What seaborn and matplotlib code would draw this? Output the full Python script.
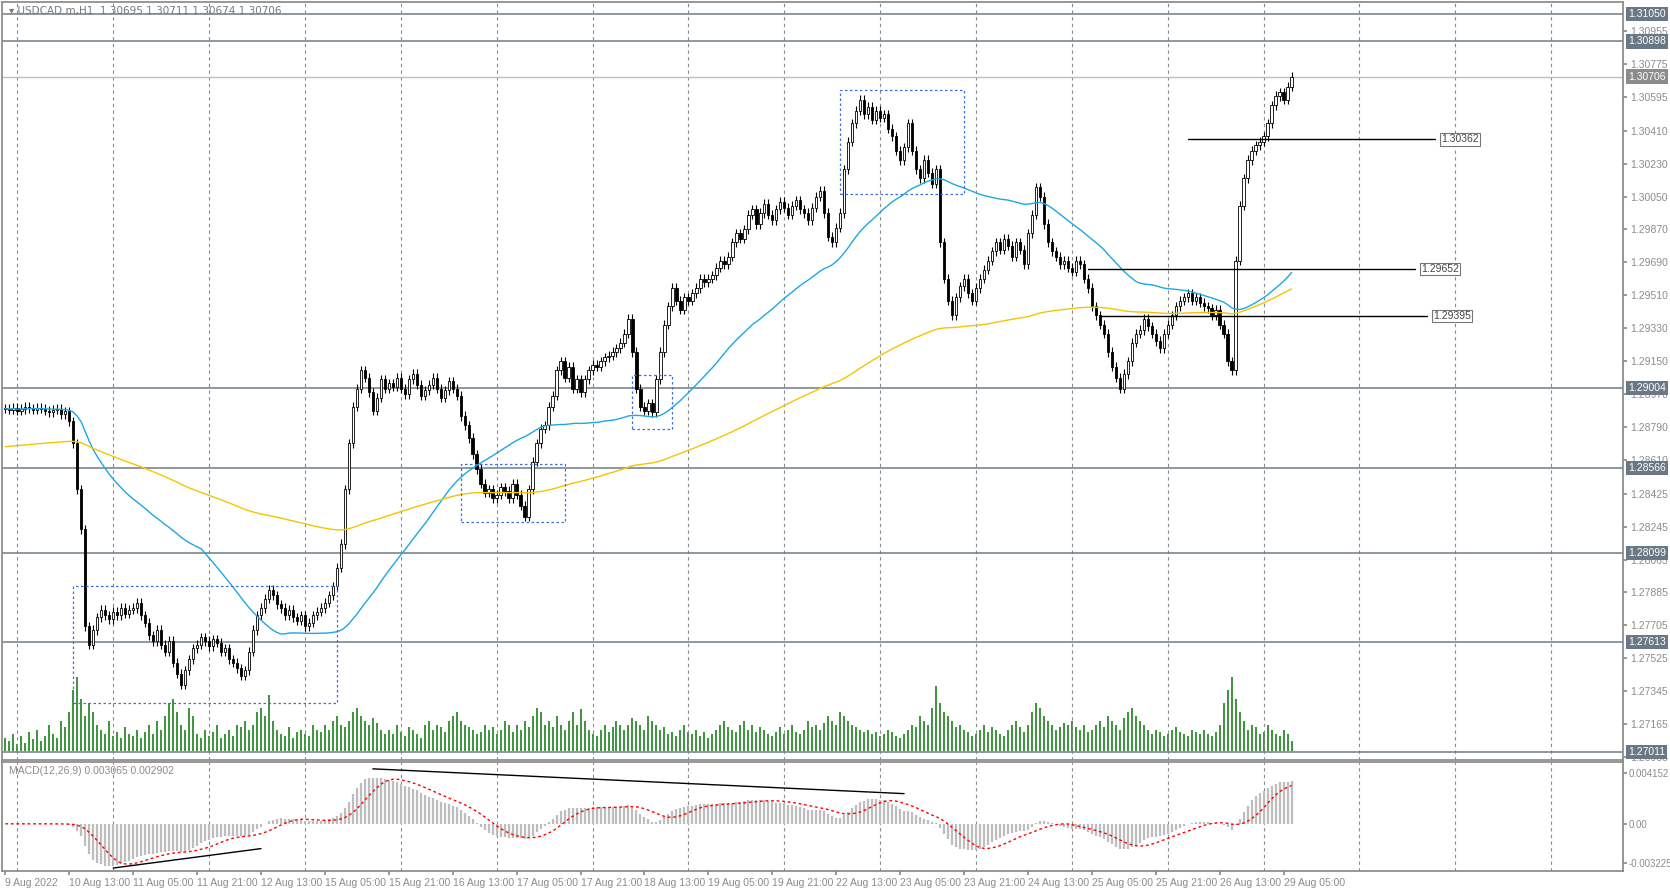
import numpy as np
import pandas as pd
import seaborn as sns
import matplotlib.pyplot as plt
from matplotlib.patches import Rectangle

# closes in 1e-5 units above 1.2 (8884 -> 1.28884), one value per H1 bar
closes_pts = [
    8890, 8885, 8895, 8880, 8888, 8900, 8892, 8885, 8895, 8890, 8880, 8870, 8885, 8890, 8860, 8875,
    8820, 8700, 8450, 8230, 7700, 7600, 7680, 7750, 7790, 7760, 7740, 7780, 7760, 7800, 7770, 7790,
    7800, 7830, 7760, 7720, 7650, 7620, 7680, 7600, 7560, 7620, 7500, 7440, 7380, 7460, 7520, 7580,
    7600, 7640, 7620, 7590, 7630, 7610, 7560, 7580, 7520, 7500, 7470, 7430, 7460, 7560, 7680, 7760,
    7800, 7850, 7900, 7870, 7820, 7800, 7760, 7790, 7750, 7730, 7760, 7700, 7720, 7760, 7780, 7800,
    7830, 7870, 7920, 8020, 8150, 8450, 8700, 8900, 9000, 9100, 9060, 8980, 8880, 8950, 9050, 9000,
    9030, 9010, 9060, 9000, 8970, 9050, 9080, 9020, 8960, 8990, 9020, 9060, 9000, 8950, 8990, 9040,
    9000, 8960, 8850, 8800, 8730, 8640, 8560, 8480, 8430, 8450, 8400, 8420, 8460, 8440, 8400, 8480,
    8420, 8360, 8300, 8450, 8600, 8700, 8780, 8800, 8900, 8960, 9100, 9150, 9060, 9120, 9000, 9050,
    8980, 9050, 9100, 9130, 9120, 9150, 9170, 9180, 9200, 9220, 9250, 9300, 9380, 9200, 9000, 8900,
    8880, 8920, 8870, 9050, 9200, 9350, 9450, 9550, 9480, 9430, 9500, 9480, 9520, 9550, 9600, 9580,
    9600, 9620, 9660, 9700, 9680, 9720, 9800, 9850, 9820, 9870, 9950, 9980, 9900, 9960, 10010, 9950,
    9920, 9980, 10020, 9990, 9950, 10000, 10030, 9980, 9960, 9920, 9990, 10050, 10080, 9960, 9830, 9800,
    9880, 9960, 10200, 10350, 10450, 10520, 10580, 10500, 10540, 10470, 10520, 10480, 10500, 10420, 10380, 10300,
    10250, 10320, 10450, 10300, 10200, 10150, 10250, 10180, 10120, 10200, 9800, 9600, 9480, 9400, 9500, 9560,
    9600, 9520, 9480, 9550, 9600, 9650, 9700, 9750, 9800, 9760, 9820, 9780, 9720, 9800, 9760, 9680,
    9850, 9950, 10100, 10050, 9900, 9800, 9750, 9720, 9680, 9700, 9660, 9640, 9700, 9680, 9600, 9550,
    9450, 9400, 9350, 9300, 9200, 9120, 9060, 9000, 9080, 9150, 9250, 9300, 9320, 9380, 9340, 9300,
    9260, 9220, 9300, 9350, 9400, 9450, 9480, 9500, 9520, 9480, 9500, 9470, 9450, 9440, 9400, 9430,
    9350, 9300, 9150, 9100, 9700, 10000, 10150, 10250, 10300, 10330, 10350, 10380, 10450, 10550, 10600, 10620,
    10580, 10650, 10706,
]

volumes = [
    15, 12, 20, 8, 18, 10, 22, 14, 25, 12, 18, 30, 20, 15, 35, 28,
    45, 70, 85, 60, 40, 55, 45, 30, 25, 20, 35, 18, 22, 15, 28, 20,
    18, 25, 15, 22, 30, 20, 35, 25, 40, 55, 60, 45, 30, 25, 50, 40,
    20, 15, 25, 18, 22, 30, 15, 20, 25, 18, 30, 28, 35, 25, 30, 45,
    50, 40, 65, 35, 25, 20, 18, 28, 15, 22, 25, 20, 18, 30, 25, 22,
    30, 25, 35, 40, 30, 28, 35, 45, 50, 40, 35, 30, 38, 32, 25, 20,
    25, 20, 30, 22, 18, 28, 25, 20, 15, 30, 35, 25, 30, 28, 22, 35,
    40, 45, 35, 30, 28, 25, 20, 22, 30, 25, 28, 20, 25, 35, 30, 22,
    30, 25, 35, 28, 40, 50, 45, 30, 35, 28, 40, 30, 25, 35, 45, 30,
    48, 35, 25, 20, 18, 25, 30, 22, 28, 35, 30, 25, 30, 38, 35, 30,
    25, 40, 35, 30, 25, 28, 20, 22, 18, 25, 30, 22, 20, 25, 18, 22,
    15, 20, 25, 30, 35, 28, 25, 22, 30, 35, 25, 30, 22, 28, 25, 20,
    18, 22, 28, 20, 25, 30, 22, 20, 25, 35, 28, 30, 25, 32, 40, 35,
    30, 45, 40, 35, 30, 28, 25, 22, 25, 20, 22, 18, 20, 25, 22, 18,
    15, 20, 25, 30, 28, 40, 35, 30, 50, 75, 55, 45, 40, 35, 28, 30,
    25, 22, 18, 20, 25, 30, 22, 28, 25, 20, 18, 25, 30, 35, 28, 22,
    30, 45, 55, 50, 40, 35, 30, 25, 28, 32, 30, 35, 28, 25, 30, 22,
    25, 30, 35, 28, 40, 35, 30, 25, 38, 45, 50, 40, 35, 30, 25, 20,
    25, 22, 18, 20, 25, 28, 22, 20, 18, 25, 22, 20, 25, 20, 18, 22,
    30, 55, 70, 85, 60, 45, 35, 25, 30, 28, 20, 22, 30, 25, 20, 18,
    25, 20, 12,
]

date_labels = ["9 Aug 2022", "10 Aug 13:00", "11 Aug 05:00", "11 Aug 21:00", "12 Aug 13:00",
               "15 Aug 05:00", "15 Aug 21:00", "16 Aug 13:00", "17 Aug 05:00", "17 Aug 21:00",
               "18 Aug 13:00", "19 Aug 05:00", "19 Aug 21:00", "22 Aug 13:00", "23 Aug 05:00",
               "23 Aug 21:00", "24 Aug 13:00", "25 Aug 05:00", "25 Aug 21:00", "26 Aug 13:00",
               "29 Aug 05:00"]
price_ticks = [1.30955, 1.30775, 1.30595, 1.30410, 1.30230, 1.30050, 1.29870, 1.29690, 1.29510,
               1.29330, 1.29150, 1.28970, 1.28790, 1.28610, 1.28425, 1.28245, 1.28065, 1.27885,
               1.27705, 1.27525, 1.27345, 1.27165, 1.26985]
level_lines = [1.31050, 1.30898, 1.29004, 1.28566, 1.28099, 1.27613, 1.27011]
current_price = 1.30706
slow_ma_seed = 1.2868  # slow average value at the left edge
# short horizontal rays: (price, start bar, end bar)
rays = [(1.30362, 296, 358), (1.29652, 271, 353), (1.29395, 274, 356)]
# dotted boxes: (bar0, bar1, price_low, price_high)
boxes = [(17, 83, 1.27283, 1.27918), (114, 140, 1.28273, 1.28587),
         (157, 167, 1.28779, 1.29076), (209, 240, 1.30065, 1.30630)]
macd_lines = [((92, 0.00410), (225, 0.00225)), ((27, -0.00330), (64, -0.00185))]

df = pd.DataFrame({"close": 1.2 + np.array(closes_pts) / 1e5, "volume": volumes})
df["bar"] = np.arange(len(df))
df["open"] = df["close"].shift(1).fillna(df["close"].iloc[0])
wick = 0.00025
df["high"] = df[["open", "close"]].max(axis=1) + wick
df["low"] = df[["open", "close"]].min(axis=1) - wick
df["ma_fast"] = df["close"].rolling(50, min_periods=1).mean()
slow = pd.concat([pd.Series([slow_ma_seed]), df["close"]], ignore_index=True)
df["ma_slow"] = slow.ewm(span=200, adjust=False).mean().iloc[1:].to_numpy()
ema12 = df["close"].ewm(span=12, adjust=False).mean()
ema26 = df["close"].ewm(span=26, adjust=False).mean()
df["macd"] = ema12 - ema26
df["signal"] = df["macd"].rolling(9, min_periods=1).mean()

sns.set_theme(style="white")
plt.rcParams["font.family"] = ["Liberation Sans", "DejaVu Sans"]
FS = 7.5
W, H = 1568, 838
fig = plt.figure(figsize=(16.7, 8.92), dpi=100)
ax = fig.add_axes([2 / W, 1 - 714 / H, 1522 / W, 712 / H])
axm = fig.add_axes([2 / W, 1 - 818 / H, 1522 / W, 102 / H], sharex=ax)
xmin, xmax = -0.8, 405
ymin, ymax = 1.26969, 1.31113
grid_c = "#8a8a8a"
txt_c = "#8c8c8c"

# volume underlay
axv = ax.twinx()
axv.vlines(df["bar"], 0, df["volume"], color="#2e8b2e", lw=1.3)
axv.set_ylim(-10, 860)
axv.axis("off")
ax.set_zorder(axv.get_zorder() + 1)
ax.patch.set_visible(False)

# candles
ax.vlines(df["bar"], df["low"], df["high"], color="black", lw=0.8, zorder=3)
body_bot = df[["open", "close"]].min(axis=1)
body_h = (df["close"] - df["open"]).abs().clip(lower=0.00004)
fc = np.where(df["close"] >= df["open"], "white", "black")
ax.bar(df["bar"], body_h, bottom=body_bot, width=0.6, color=fc, edgecolor="black", lw=0.6, zorder=4)
sns.lineplot(data=df, x="bar", y="ma_fast", color="#1ea7e1", lw=1, ax=ax, zorder=5)
sns.lineplot(data=df, x="bar", y="ma_slow", color="#f5c400", lw=1, ax=ax, zorder=5)

for lv in level_lines:
    ax.axhline(lv, color="#6f7c88", lw=1.1, zorder=2)
ax.axhline(current_price, color="#c0c0c0", lw=1, zorder=2)
for p, b0, b1 in rays:
    ax.plot([b0, b1], [p, p], color="black", lw=1, zorder=6)
    ax.text(b1 + 1.5, p, f"{p:.5f}", fontsize=FS, color="#444", va="center", ha="left",
            bbox=dict(boxstyle="square,pad=0.1", fc="white", ec="#777", lw=0.8), zorder=7)
for b0, b1, lo, hi in boxes:
    ax.add_patch(Rectangle((b0, lo), b1 - b0, hi - lo, fill=False, ec="#3a6fe0",
                           ls=(0, (2, 2)), lw=0.9, zorder=6))

day_lines = np.arange(3, xmax, 24)
for a in (ax, axm):
    for d in day_lines:
        a.axvline(d, color=grid_c, lw=0.8, ls=(0, (3, 3)), zorder=1)

ax.set_xlim(xmin, xmax)
ax.set_ylim(ymin, ymax)
ax.yaxis.tick_right()
ax.set_yticks(price_ticks)
ax.set_yticklabels([f"{t:.5f}" for t in price_ticks])
ax.tick_params(axis="y", labelsize=FS, colors=txt_c, length=3, pad=2)
ax.tick_params(axis="x", bottom=False, labelbottom=False)
ax.set_xlabel("")
ax.set_ylabel("")
for s in ax.spines.values():
    s.set_color(grid_c)
# highlighted right-axis price labels
for lv in level_lines + [current_price]:
    ax.text(1.003, (lv - ymin) / (ymax - ymin), f"{lv:.5f}", transform=ax.transAxes,
            fontsize=FS, color="white", va="center", ha="left", zorder=8, clip_on=False,
            bbox=dict(boxstyle="square,pad=0.2", fc="#8c8c8c" if lv == current_price else "#6a7886",
                      ec="none"))
ax.text(0.004, 0.995, "\u25be USDCAD.m,H1  1.30695 1.30711 1.30674 1.30706", transform=ax.transAxes,
        fontsize=FS, color="#777", va="top", ha="left", fontfamily="DejaVu Sans")

# MACD panel
axm.vlines(df["bar"], 0, df["macd"], color="#bdbdbd", lw=1.6, zorder=3)
axm.plot(df["bar"], df["signal"], color="red", lw=1, ls=(0, (2, 2)), zorder=4)
for (b0, v0), (b1, v1) in macd_lines:
    axm.plot([b0, b1], [v0, v1], color="black", lw=1, zorder=5)
axm.set_ylim(-0.0035, 0.0046)
axm.set_xlim(xmin, xmax)
axm.yaxis.tick_right()
axm.set_yticks([0.0038, 0.0, -0.0029])
axm.set_yticklabels(["0.004152", "0.00", "-0.003225"])
axm.tick_params(axis="y", labelsize=7, colors=txt_c, length=3, pad=1)
axm.set_xticks(np.arange(0, 16 * len(date_labels), 16))
axm.set_xticklabels(date_labels, ha="left")
axm.tick_params(axis="x", labelsize=FS, colors=txt_c, length=3, pad=2, bottom=True)
axm.set_xlabel("")
axm.set_ylabel("")
for s in axm.spines.values():
    s.set_color(grid_c)
axm.text(0.004, 0.96, "MACD(12,26,9) 0.003065 0.002902", transform=axm.transAxes,
         fontsize=FS, color="#8c8c8c", va="top", ha="left")

fig.savefig("out.png", dpi=100)
